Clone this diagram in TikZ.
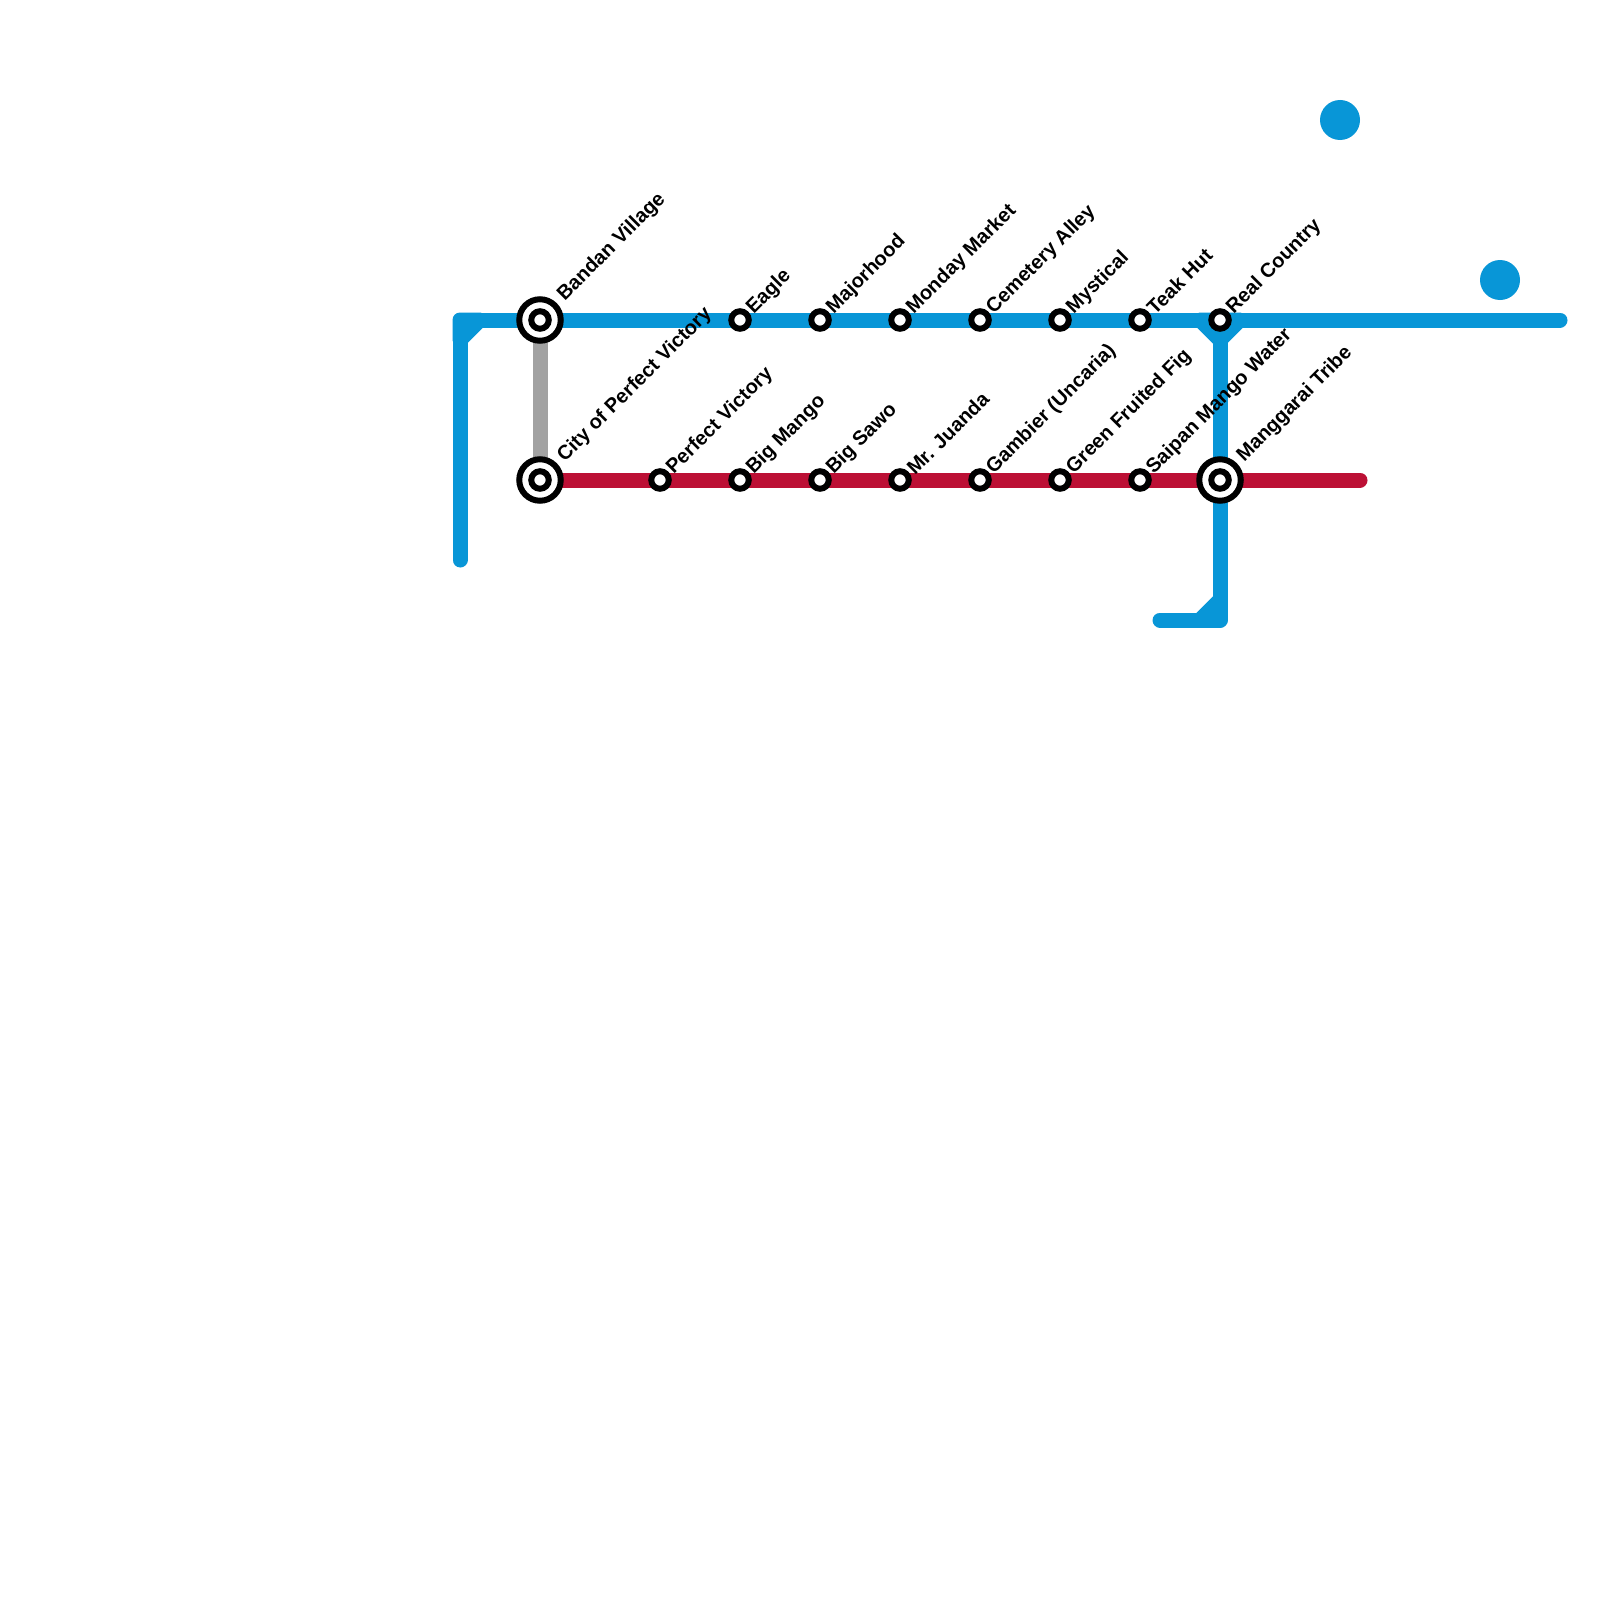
\documentclass[tikz,border=0pt]{standalone}
\usepackage{fontspec}
\setmainfont{Liberation Sans}
\begin{document}
\begin{tikzpicture}[x=1pt,y=-1pt,
  blueline/.style={draw=lineblue,line width=15pt,line cap=round,line join=round},
  redline/.style={draw=linered,line width=15pt,line cap=round},
  grayline/.style={draw=linegray,line width=15pt},
  stn/.style={circle,draw=black,line width=6pt,fill=white,minimum size=17.5pt,inner sep=0pt,outer sep=0pt},
  hubouter/.style={circle,draw=black,line width=6pt,fill=white,minimum size=41.5pt,inner sep=0pt,outer sep=0pt},
  hubinner/.style={stn},
  lbl/.style={anchor=west,rotate=45,inner sep=0pt,font=\fontsize{20}{22}\selectfont\bfseries,text=black},
  dot/.style={circle,fill=lineblue,minimum size=40pt,inner sep=0pt,outer sep=0pt}]
\definecolor{lineblue}{HTML}{0896D7}
\definecolor{linered}{HTML}{BC1035}
\definecolor{linegray}{HTML}{A2A2A2}
\useasboundingbox[fill=white] (0,0) rectangle (1600,1600);
\coordinate (tl) at (460,320);
\coordinate (tlb) at (460,340);
\coordinate (tlr) at (480,320);
\coordinate (lend) at (460,560);
\coordinate (rend) at (1560,320);
\coordinate (rrend) at (1360,480);
\coordinate (jl) at (1200,320);
\coordinate (jc) at (1220,340);
\coordinate (jr) at (1240,320);
\coordinate (bc) at (1220,620);
\coordinate (bu) at (1220,600);
\coordinate (bl) at (1200,620);
\coordinate (bend) at (1160,620);
\node[dot] (d1) at (1340,120) {};
\node[dot] (d2) at (1500,280) {};
\coordinate (hA) at (540,320);
\coordinate (hB) at (540,480);
\coordinate (hC) at (1220,480);
\coordinate (top) at (1220,320);
\draw[grayline] (hA) -- (hB);
\draw[blueline] (lend) -- (tl) -- (rend);
\fill[lineblue,draw=lineblue,line width=15pt,line join=round] (tl) -- (tlr) -- (tlb) -- cycle;
\fill[lineblue,draw=lineblue,line width=15pt,line join=round] (jl) -- (jr) -- (jc) -- cycle;
\draw[blueline] (top) -- (bc) -- (bend);
\fill[lineblue,draw=lineblue,line width=15pt,line join=round] (bc) -- (bu) -- (bl) -- cycle;
\draw[redline] (hB) -- (rrend);
\foreach \n/\x/\y in {a/540/320,b/540/480,c/1220/480}{
  \node[hubouter] (\n o) at (\x,\y) {};
  \node[hubinner] (\n i) at (\x,\y) {};
}
\foreach \n/\x/\y in {t1/740/320,t2/820/320,t3/900/320,t4/980/320,t5/1060/320,t6/1140/320,t7/1220/320,
  r1/660/480,r2/740/480,r3/820/480,r4/900/480,r5/980/480,r6/1060/480,r7/1140/480}{
  \node[stn] (\n) at (\x,\y) {};
}
\node[lbl] at (561,298) {Bandan Village};
\node[lbl] at (561,459) {City of Perfect Victory};
\node[lbl] at (1240.5,459) {Manggarai Tribe};
\foreach \x/\y/\t in {740/320/Eagle,820/320/Majorhood,900/320/Monday Market,980/320/Cemetery Alley,1060/320/Mystical,1140/320/Teak Hut,1220/320/Real Country,
 660/480/Perfect Victory,740/480/Big Mango,820/480/Big Sawo,900/480/Mr. Juanda,980/480/Gambier (Uncaria),1060/480/Green Fruited Fig,1140/480/Saipan Mango Water}{
  \node[lbl] at (\x+10,\y-9) {\t};
}
\end{tikzpicture}
\end{document}
